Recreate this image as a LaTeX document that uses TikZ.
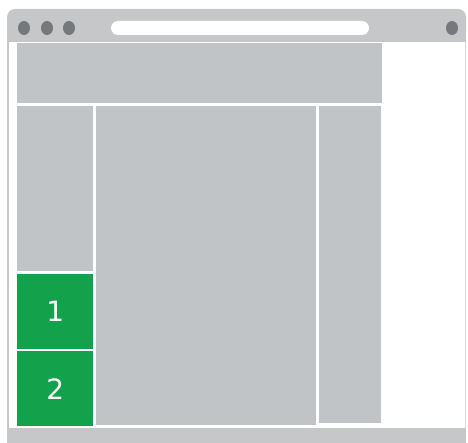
\documentclass[tikz,border=0pt]{standalone}
\usepackage{fontspec}
\setmainfont{DejaVu Sans}
\usetikzlibrary{positioning}
\definecolor{panelgray}{HTML}{C1C4C7}
\definecolor{framegray}{HTML}{C6C7C9}
\definecolor{dotgray}{HTML}{76797C}
\definecolor{navgreen}{HTML}{13A24B}

\begin{document}
\begin{tikzpicture}[x=1pt,y=-1pt,
  panel/.style={fill=panelgray,inner sep=0pt,anchor=north west},
  navbox/.style={fill=navgreen,text=white,inner sep=0pt,anchor=north west,
    minimum width=76pt,minimum height=75pt,font=\fontsize{28}{32}\selectfont}]
\useasboundingbox (0,0) rectangle (468,443);

% Browser window
\fill[white] (7,9) rectangle (466,443);
\fill[framegray,rounded corners=8pt] (7,9) rectangle (466,42);
\fill[framegray] (7,30) rectangle (466,42);
\fill[framegray] (7,428) rectangle (466,443);
\draw[framegray,line width=1.5pt] (7.75,42) -- (7.75,428);
\draw[framegray!70,line width=1pt] (465.5,42) -- (465.5,428);

% Title bar buttons and address bar
\fill[dotgray] (24,28) ellipse (6 and 7);
\fill[dotgray] (47,28) ellipse (6 and 7);
\fill[dotgray] (69,28) ellipse (6 and 7);
\fill[dotgray] (452,28) ellipse (6 and 7);
\fill[white,rounded corners=7pt] (111,21) rectangle (369,35);

% Page layout
\node[panel,minimum width=365pt,minimum height=60pt] (header) at (17,43) {};
\node[panel,minimum width=76pt,minimum height=165pt] (sidebar) at (17,106) {};
\node[navbox] (one) at (17,274) {1};
\node[navbox] (two) at (17,351) {2};
\node[panel,minimum width=220pt,minimum height=319pt] (content) at (96,106) {};
\node[panel,minimum width=62pt,minimum height=317pt] (aside) at (319,106) {};
\end{tikzpicture}
\end{document}
